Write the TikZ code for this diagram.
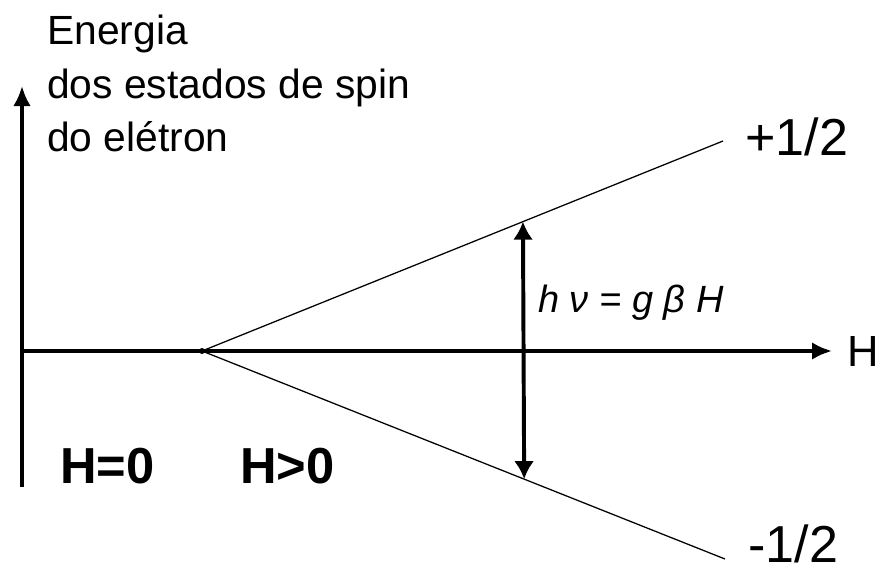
\documentclass[tikz,border=0pt]{standalone}
\usepackage{fontspec}
\setmainfont{Liberation Sans}
\usepackage{tikz}
\usetikzlibrary{arrows.meta, positioning, calc}

\begin{document}
\begin{tikzpicture}[
      x=0.025cm, y=-0.025cm,
      axis/.style={line width=2.6pt, -{Latex[length=5mm, width=4.4mm]}},
      level/.style={line width=0.9pt},
      trans/.style={line width=2.8pt, {Latex[length=4.5mm, width=5mm]}-{Latex[length=4.5mm, width=5mm]}},
      lbl/.style={inner sep=0pt, font=\fontsize{29}{38}\selectfont},
      spin/.style={inner sep=0pt, anchor=base west, font=\fontsize{37}{40}\selectfont},
      field/.style={inner sep=0pt, anchor=base west, font=\fontsize{36}{40}\selectfont\bfseries}
    ]
    \useasboundingbox (0,0) rectangle (878,573);

    % eixos
    \coordinate (o) at (22,351);
    \coordinate (ybot) at (22,487);
    \coordinate (ytop) at (22,86);
    \coordinate (xend) at (832,351);
    \draw[axis] (ybot) -- (ytop);
    \draw[axis] (o) -- (xend);

    % niveis de spin
    \coordinate (split) at (202,351);
    \coordinate (up) at (723,141);
    \coordinate (low) at (725,559);
    \draw[level] (split) -- (up);
    \draw[level] (split) -- (low);
    \fill (split) circle (3);

    \coordinate (tup) at ($(split)!0.616!(up)$);
    \coordinate (tlow) at ($(split)!0.616!(low)$);
    \draw[trans] (tlow) -- (tup);

    \node[lbl, anchor=north west, align=left] (energy) at (47,15)
      {Energia\\dos estados de spin\\do elétron};
    \node[spin] (plus) at (745,155) {+1/2};
    \node[spin] (minus) at (748,562) {-1/2};
    \node[spin, font=\fontsize{31}{34}\selectfont] (hlab) at (847,366) {H};
    \node[field] (h0) at (60,483) {H=0};
    \node[field] (hpos) at (240,483) {H>0};
    \node[lbl, anchor=base west, font=\fontsize{27}{30}\selectfont\itshape] (res) at (538,312)
      {h\;ν = g\;β\;H};
  \end{tikzpicture}
\end{document}
